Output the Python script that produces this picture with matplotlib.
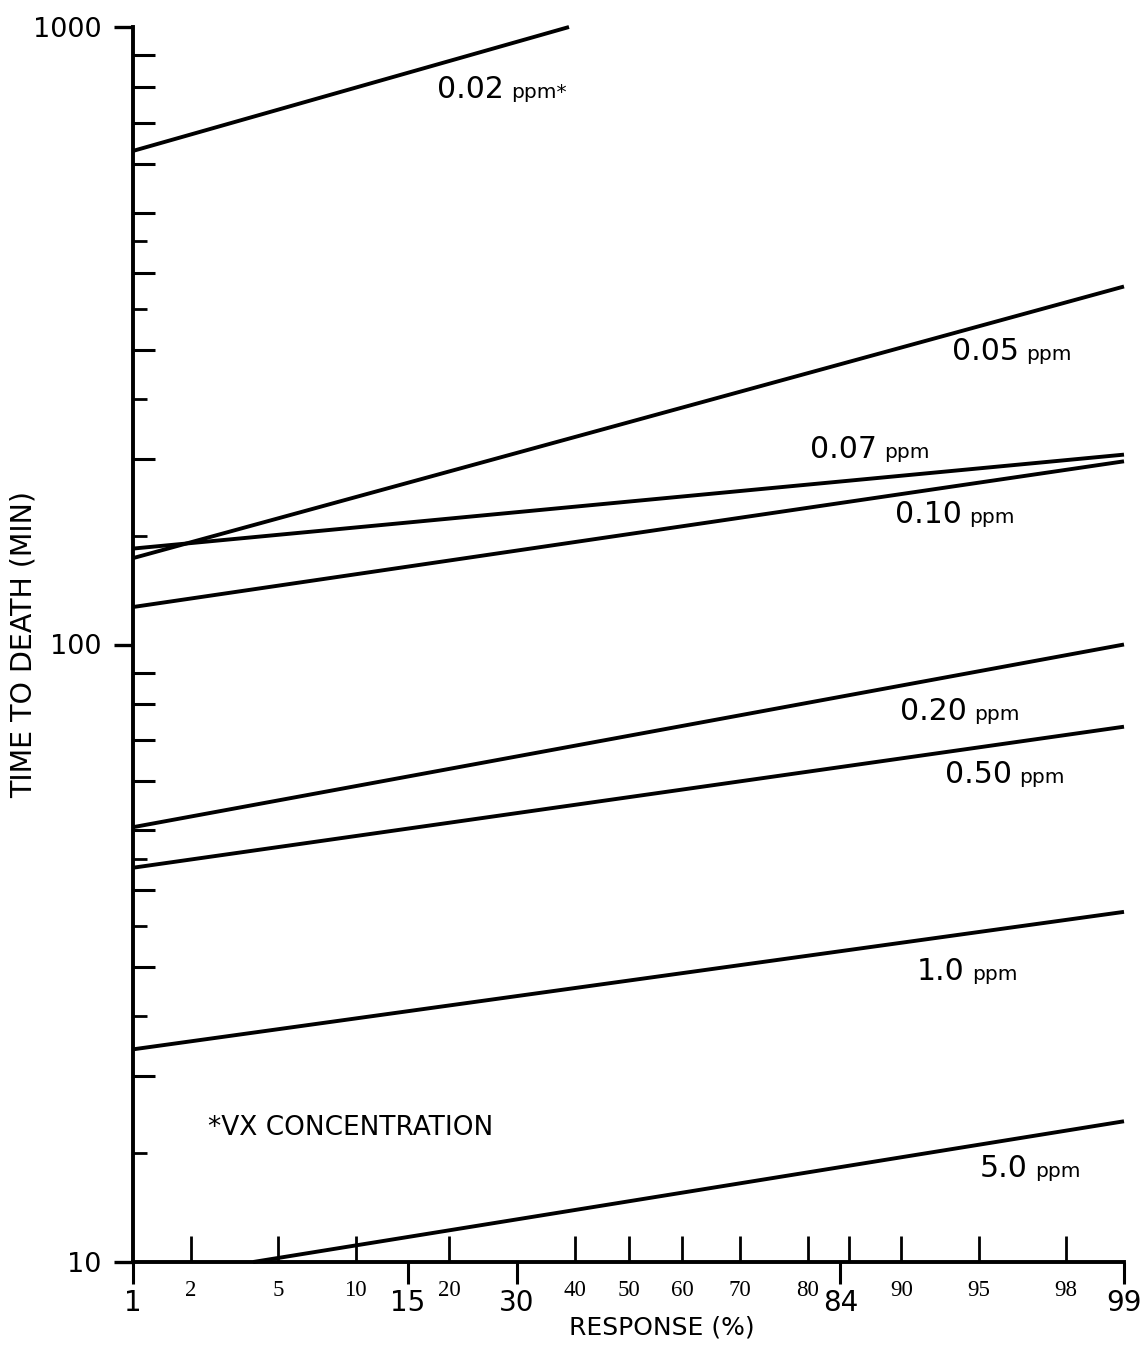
import math
import numpy as np
import matplotlib
matplotlib.use("Agg")
import matplotlib.pyplot as plt
from matplotlib.ticker import FixedLocator, FixedFormatter, NullLocator, NullFormatter

# ---------------- data ----------------
concentrations = ["0.02", "0.05", "0.07", "0.10", "0.20", "0.50", "1.0", "5.0"]
unit_labels = ["ppm*", "ppm", "ppm", "ppm", "ppm", "ppm", "ppm", "ppm"]
response_start = [1, 1, 1, 1, 1, 1, 1, 3.9]        # response (%)
response_end = [39, 99, 99, 99, 99, 99, 99, 99]
time_start = [630, 138, 143, 115, 50.6, 43.5, 22.1, 10.0]   # time to death (min)
time_end = [1000, 380, 203, 198, 100, 73.6, 36.9, 16.9]

x_major_ticks = [1, 15, 30, 84, 99]
x_major_labels = ["1", "15", "30", "84", "99"]
x_minor_ticks = [2, 5, 10, 20, 40, 50, 60, 70, 80, 85, 90, 95, 98]
x_minor_labels = ["2", "5", "10", "20", "40", "50", "60", "70", "80", "", "90", "95", "98"]
y_major_ticks = [10, 100, 1000]
y_major_labels = ["10", "100", "1000"]
y_minor_long = [20, 30, 40, 50, 60, 70, 80, 90, 200, 300, 400, 500, 600, 700, 800, 900]
y_minor_short = [15, 25, 35, 45, 150, 250, 350, 450]

note_text = "*VX CONCENTRATION"

# label anchor positions (axes fraction: left edge, baseline)
label_x = [0.3068, 0.8264, 0.6832, 0.7689, 0.7740, 0.8194, 0.7911, 0.8547]
label_y = [0.9425, 0.7304, 0.6510, 0.5984, 0.4389, 0.3879, 0.2283, 0.0688]

# ---------------- probit scale ----------------
_a = [-3.969683028665376e+01, 2.209460984245205e+02, -2.759285104469687e+02,
      1.383577518672690e+02, -3.066479806614716e+01, 2.506628277459239e+00]
_b = [-5.447609879822406e+01, 1.615858368580409e+02, -1.556989798598866e+02,
      6.680131188771972e+01, -1.328068155288572e+01]
_c = [-7.784894002430293e-03, -3.223964580411365e-01, -2.400758277161838e+00,
      -2.549671348449443e+00, 4.374664141464968e+00, 2.938163982698783e+00]
_d = [7.784695709041462e-03, 3.224671290700398e-01, 2.445134137142996e+00,
      3.754408661907416e+00]


def _ppf(p):
    p = np.asarray(p, dtype=float)
    shape = p.shape
    p = np.clip(np.atleast_1d(p).ravel(), 1e-12, 1 - 1e-12)
    out = np.empty_like(p)
    plow = 0.02425
    lo = p < plow
    hi = p > 1 - plow
    mid = ~(lo | hi)
    if lo.any():
        q = np.sqrt(-2 * np.log(p[lo]))
        out[lo] = ((((((_c[0]*q+_c[1])*q+_c[2])*q+_c[3])*q+_c[4])*q+_c[5]) /
                   ((((_d[0]*q+_d[1])*q+_d[2])*q+_d[3])*q+1))
    if hi.any():
        q = np.sqrt(-2 * np.log(1 - p[hi]))
        out[hi] = -((((((_c[0]*q+_c[1])*q+_c[2])*q+_c[3])*q+_c[4])*q+_c[5]) /
                    ((((_d[0]*q+_d[1])*q+_d[2])*q+_d[3])*q+1))
    if mid.any():
        q = p[mid] - 0.5
        r = q * q
        out[mid] = ((((((_a[0]*r+_a[1])*r+_a[2])*r+_a[3])*r+_a[4])*r+_a[5])*q /
                    (((((_b[0]*r+_b[1])*r+_b[2])*r+_b[3])*r+_b[4])*r+1))
    return out.reshape(shape)


_erf = np.vectorize(math.erf)


def pct_to_probit(x):
    return _ppf(np.asarray(x, dtype=float) / 100.0)


def probit_to_pct(z):
    z = np.asarray(z, dtype=float)
    return 100.0 * 0.5 * (1.0 + _erf(z / math.sqrt(2.0)))


# ---------------- figure ----------------
W, H = 1146, 1349
fig = plt.figure(figsize=(W / 100, H / 100), dpi=100)
ax = fig.add_axes([133 / W, 87 / H, 991 / W, 1235 / H])

ax.set_xscale("function", functions=(pct_to_probit, probit_to_pct))
ax.set_yscale("log")
ax.set_xlim(1, 99)
ax.set_ylim(10, 1000)

for xs, xe, ys, ye in zip(response_start, response_end, time_start, time_end):
    ax.plot([xs, xe], [ys, ye], color="black", lw=2.8, solid_capstyle="butt",
            clip_on=False)

for s in ["top", "right"]:
    ax.spines[s].set_visible(False)
for s in ["left", "bottom"]:
    ax.spines[s].set_linewidth(2.8)
    ax.spines[s].set_capstyle("projecting")

# x ticks
ax.xaxis.set_major_locator(FixedLocator(x_major_ticks))
ax.xaxis.set_major_formatter(FixedFormatter(x_major_labels))
ax.xaxis.set_minor_locator(FixedLocator(x_minor_ticks))
ax.xaxis.set_minor_formatter(FixedFormatter(x_minor_labels))
ax.tick_params(axis="x", which="major", direction="out", length=16, width=2.2,
               labelsize=20, pad=3.5)
ax.tick_params(axis="x", which="minor", direction="in", length=19, width=2.0,
               labelsize=16.5, pad=13, labelfontfamily="Liberation Serif")

# y ticks
ax.yaxis.set_major_locator(FixedLocator(y_major_ticks))
ax.yaxis.set_major_formatter(FixedFormatter(y_major_labels))
ax.yaxis.set_minor_locator(FixedLocator(y_minor_long))
ax.yaxis.set_minor_formatter(NullFormatter())
ax.tick_params(axis="y", which="major", direction="out", length=14, width=2.4,
               labelsize=19.5, pad=8.5)
ax.tick_params(axis="y", which="minor", direction="in", length=16, width=2.2)

sec = ax.secondary_yaxis("left", functions=(lambda v: v, lambda v: v))
sec.yaxis.set_major_locator(FixedLocator(y_minor_short))
sec.yaxis.set_major_formatter(NullFormatter())
sec.yaxis.set_minor_locator(NullLocator())
sec.yaxis.set_minor_formatter(NullFormatter())
sec.spines["left"].set_visible(False)
sec.tick_params(axis="y", which="major", direction="in", length=10, width=2.0)

# axis labels
ax.set_xlabel("RESPONSE (%)", fontsize=18)
ax.xaxis.label.set(va="center")
ax.xaxis.set_label_coords(0.534, -0.0534)
ax.set_ylabel("TIME TO DEATH (MIN)", fontsize=20.5)
ax.yaxis.label.set(ha="center", va="center", rotation_mode="default")
ax.yaxis.set_label_coords(-0.110, 0.5)

# curve labels
for conc, unit, lx, ly in zip(concentrations, unit_labels, label_x, label_y):
    t = ax.text(lx, ly, conc, transform=ax.transAxes, fontsize=21.5,
                ha="left", va="baseline")
    ax.annotate(unit, xy=(1, ly), xycoords=(t, "axes fraction"),
                xytext=(5, 0), textcoords="offset points",
                fontsize=14.5, ha="left", va="baseline")

ax.text(0.0757, 0.1028, note_text, transform=ax.transAxes, fontsize=19,
        ha="left", va="baseline")

fig.savefig("out.png", dpi=100)
